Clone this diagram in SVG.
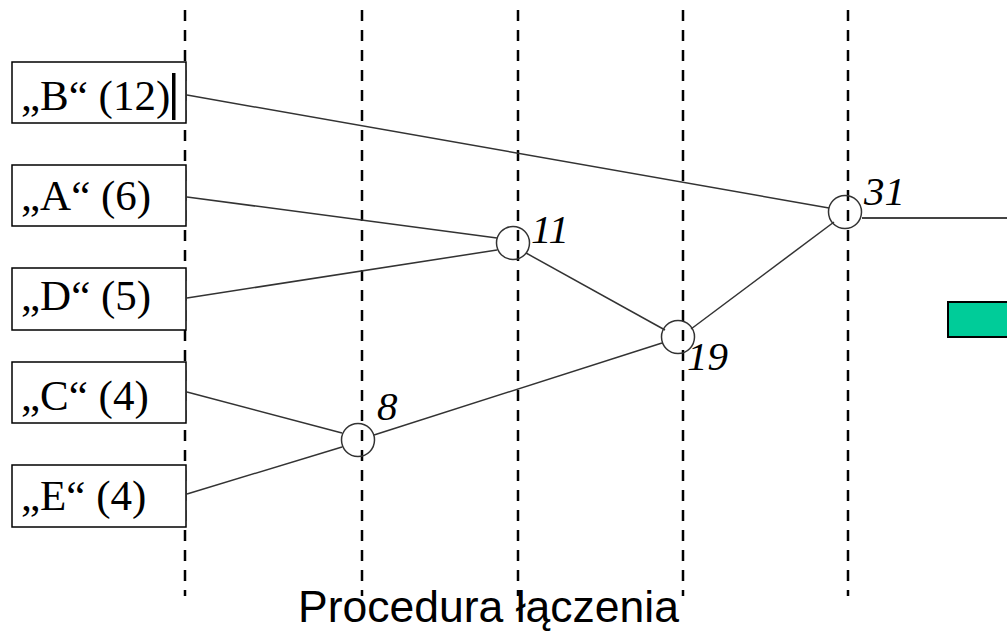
<svg xmlns="http://www.w3.org/2000/svg" width="1007" height="639" viewBox="0 0 1007 639">
<style>
.grid{stroke:#000;stroke-width:2.5;stroke-dasharray:11 9}
.box{fill:#fff;stroke:#000;stroke-width:1.5}
.lbl{font-family:"Liberation Serif",serif;font-size:43px;fill:#000}
.num{font-family:"Liberation Serif",serif;font-size:41px;font-style:italic;fill:#000}
.conn line{stroke:#333;stroke-width:1.5}
.node circle{fill:none;stroke:#333;stroke-width:1.5}
</style>
<rect width="1007" height="639" fill="#fff"/>
<g id="grid">
<line class="grid" x1="185" y1="10" x2="185" y2="596"/>
<line class="grid" x1="362" y1="10" x2="362" y2="596"/>
<line class="grid" x1="518" y1="10" x2="518" y2="596"/>
<line class="grid" x1="683" y1="10" x2="683" y2="596"/>
<line class="grid" x1="848" y1="10" x2="848" y2="596"/>
</g>
<g id="connectors" class="conn">
<line x1="187" y1="95" x2="829" y2="208"/>
<line x1="187" y1="197" x2="497" y2="238"/>
<line x1="187" y1="298" x2="497" y2="250"/>
<line x1="187" y1="392" x2="342" y2="433"/>
<line x1="187" y1="494" x2="342" y2="447"/>
<line x1="374" y1="435" x2="662" y2="343"/>
<line x1="526" y1="253" x2="665" y2="330"/>
<line x1="691" y1="329" x2="834" y2="222"/>
<line x1="862" y1="218" x2="1007" y2="218" style="stroke-width:2.2;stroke:#444"/>
</g>
<g id="nodeB"><rect class="box" x="12" y="62" width="174" height="61"/><text class="lbl" x="21" y="110">„B“ (12)</text><rect x="172" y="73" width="3.5" height="47" fill="#000"/></g>
<g id="nodeA"><rect class="box" x="12" y="165" width="174" height="61"/><text class="lbl" x="21" y="210">„A“ (6)</text></g>
<g id="nodeD"><rect class="box" x="12" y="268" width="174" height="62"/><text class="lbl" x="21" y="310">„D“ (5)</text></g>
<g id="nodeC"><rect class="box" x="12" y="362" width="174" height="61"/><text class="lbl" x="21" y="410">„C“ (4)</text></g>
<g id="nodeE"><rect class="box" x="12" y="465" width="174" height="62"/><text class="lbl" x="21" y="510">„E“ (4)</text></g>
<g id="node8" class="node"><circle cx="358" cy="440" r="16.5"/><text class="num" x="377" y="420">8</text></g>
<g id="node11" class="node"><circle cx="513" cy="243" r="16.5"/><text class="num" x="531" y="243">11</text></g>
<g id="node19" class="node"><circle cx="678" cy="337" r="16.5"/><text class="num" x="687" y="370">19</text></g>
<g id="node31" class="node"><circle cx="845" cy="212" r="16.5"/><text class="num" x="864" y="205">31</text></g>
<g id="greenbox"><rect x="948" y="302" width="64" height="35" fill="#00CC99" stroke="#000" stroke-width="2"/></g>
<text x="298" y="622" font-family="'Liberation Sans',Arial,sans-serif" font-size="44.5" fill="#000">Procedura łączenia</text>
</svg>
